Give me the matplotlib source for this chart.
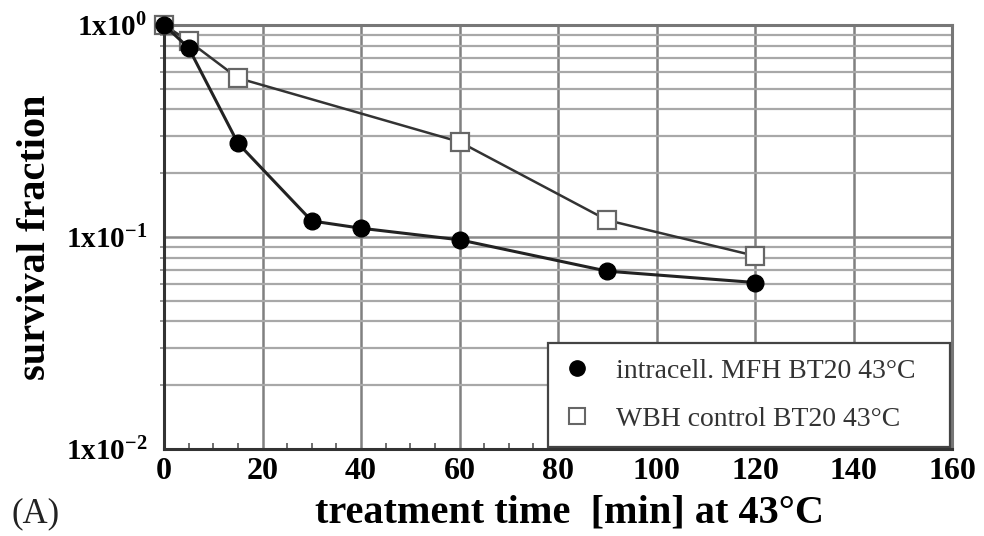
import numpy as np
import matplotlib.pyplot as plt
from matplotlib.lines import Line2D
from matplotlib.ticker import FixedLocator, MultipleLocator

plt.rcParams['font.family'] = ['Liberation Serif', 'DejaVu Serif']
plt.rcParams['mathtext.fontset'] = 'custom'
plt.rcParams['mathtext.rm'] = 'Liberation Serif'
plt.rcParams['mathtext.bf'] = 'Liberation Serif:bold'

# survival fraction
mfhTime = [0, 5, 15, 30, 40, 60, 90, 120]
mfhSurvival = [1.0, 0.78, 0.277, 0.119, 0.110, 0.097, 0.069, 0.061]

wbhTime = [0, 5, 15, 60, 90, 120]
wbhSurvival = [1.0, 0.84, 0.562, 0.281, 0.120, 0.0815]

xTicks = [0, 20, 40, 60, 80, 100, 120, 140, 160]
yTicks = [1e-2, 1e-1, 1e0]
yTickLabels = [r'$\mathbf{1x10^{-2}}$', r'$\mathbf{1x10^{-1}}$', r'$\mathbf{1x10^{0}}$']

fig = plt.figure(figsize=(9.84, 5.36), dpi=100)
ax = fig.add_axes([0.1667, 0.1623, 0.8008, 0.7911])

ax.set_yscale('log')
ax.set_xlim(0, 160)
ax.set_ylim(1e-2, 1e0)

# grid: vertical every 20, horizontal at every log step
ax.set_xticks(xTicks)
ax.xaxis.set_minor_locator(MultipleLocator(5))
ax.set_yticks(yTicks)
ax.set_yticklabels(yTickLabels)
minorY = [m * 10.0 ** e for e in (-2, -1) for m in range(2, 10)]
ax.yaxis.set_minor_locator(FixedLocator(minorY))
ax.yaxis.set_minor_formatter(plt.NullFormatter())

ax.grid(True, which='major', axis='x', color='#808080', linewidth=1.8)
ax.grid(True, which='major', axis='y', color='#8a8a8a', linewidth=1.8)
ax.grid(True, which='minor', axis='y', color='#a8a8a8', linewidth=1.6)

ax.tick_params(axis='x', which='major', length=0, pad=6, labelsize=23)
ax.tick_params(axis='x', which='minor', direction='in', length=4, width=1.2, color='#555555')
ax.tick_params(axis='y', which='major', length=0, pad=12, labelsize=21)
ax.tick_params(axis='y', which='minor', direction='out', length=3, width=1.2, color='#888888')
for lbl in ax.get_xticklabels():
    lbl.set_fontweight('bold')

for side in ['left', 'bottom']:
    ax.spines[side].set_color('#333333')
    ax.spines[side].set_linewidth(2.2)
for side in ['top', 'right']:
    ax.spines[side].set_color('#777777')
    ax.spines[side].set_linewidth(2.2)

ax.plot(wbhTime, wbhSurvival, color='#333333', linewidth=1.8, marker='s', markersize=12.5,
        markerfacecolor='white', markeredgecolor='#666666', markeredgewidth=1.6, zorder=3, clip_on=False)
ax.plot(mfhTime, mfhSurvival, color='#222222', linewidth=2.2, marker='o', markersize=12,
        markerfacecolor='black', markeredgecolor='black', zorder=4, clip_on=False)

handles = [
    Line2D([], [], linestyle='none', marker='o', markersize=11, markerfacecolor='black', markeredgecolor='black'),
    Line2D([], [], linestyle='none', marker='s', markersize=11, markerfacecolor='white',
           markeredgecolor='#666666', markeredgewidth=1.5),
]
leg = ax.legend(handles, ['intracell. MFH BT20 43°C', 'WBH control BT20 43°C'],
                loc='lower left', bbox_to_anchor=(0.487, 0.005, 0.5105, 0.25), mode='expand',
                fontsize=20, frameon=True, fancybox=False, framealpha=1, edgecolor='#444444',
                borderpad=0.55, labelspacing=0.8, handlelength=1.0, handletextpad=0.9,
                borderaxespad=0.0)
leg.get_frame().set_linewidth(1.6)
for t in leg.get_texts():
    t.set_color('#333333')

ax.set_xlabel('treatment time  [min] at 43°C', fontsize=29, fontweight='bold')
ax.xaxis.set_label_coords(0.514, -0.107)
ax.set_ylabel('survival fraction', fontsize=29, fontweight='bold')
ax.yaxis.set_label_coords(-0.14, 0.5)
fig.text(0.012, 0.026, '(A)', fontsize=25, color='#222222')

fig.savefig('out.png', dpi=100)
